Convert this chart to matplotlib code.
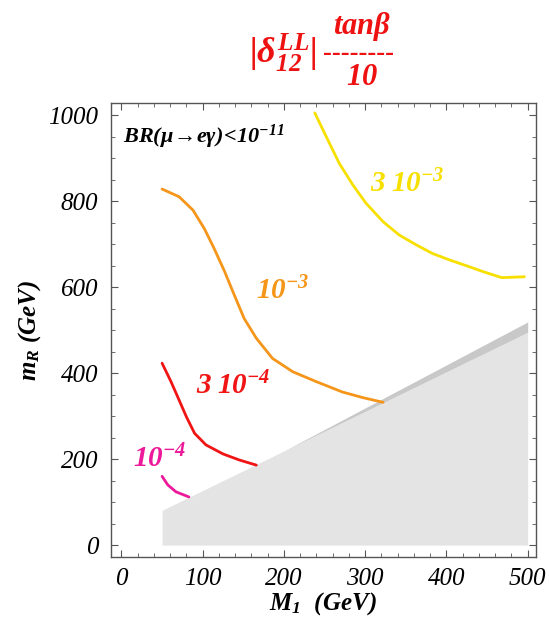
import numpy as np
import matplotlib as mpl
mpl.use('Agg')
import matplotlib.pyplot as plt
from matplotlib.ticker import MultipleLocator

# contour curves (M1 in GeV, mR in GeV)
m1_3e3 = [238, 252, 268, 285, 301, 322, 342, 363, 383, 404, 424, 445, 468, 482, 496]
mr_3e3 = [1005, 950, 888, 837, 795, 752, 721, 698, 678, 663, 650, 636, 622, 623, 624]

m1_1e3 = [50, 71, 88, 102, 114, 127, 139, 151, 166, 186, 211, 240, 272, 297, 322]
mr_1e3 = [828, 810, 779, 736, 690, 636, 581, 527, 481, 434, 403, 380, 356, 343, 332]

m1_3e4 = [50, 61, 71, 80, 90, 104, 125, 145, 166]
mr_3e4 = [423, 380, 337, 298, 260, 233, 212, 198, 186]

m1_1e4 = [50, 57, 67, 83]
mr_1e4 = [160, 140, 124, 112]

# excluded region (light) and its darker upper edge
excl_m1 = [50, 500]
excl_top = [81, 495]
band_m1 = [200, 500]
band_top = [219, 519]

xticks = [0, 100, 200, 300, 400, 500]
yticks = [0, 200, 400, 600, 800, 1000]

serif = ['Liberation Serif', 'DejaVu Serif']
plt.rcParams['font.family'] = serif
plt.rcParams['mathtext.fontset'] = 'custom'
plt.rcParams['mathtext.rm'] = 'Liberation Serif:bold:italic'
plt.rcParams['mathtext.it'] = 'Liberation Serif:bold:italic'
plt.rcParams['mathtext.bf'] = 'Liberation Serif:bold:italic'

fig = plt.figure(figsize=(5.49, 6.17), dpi=100)
ax = fig.add_axes([0.202, 0.097, 0.774, 0.736])

# gray excluded wedge
ax.fill_between(excl_m1, [0, 0], excl_top, color='#e4e4e4', lw=0)
ax.fill_between(band_m1, [np.interp(x, excl_m1, excl_top) for x in band_m1], band_top,
                color='#c8c8c8', lw=0)

lw = 2.0
kw = dict(lw=lw, solid_joinstyle='round', solid_capstyle='round')
ax.plot(m1_3e3, mr_3e3, color='#f7e000', **kw)
ax.plot(m1_1e3, mr_1e3, color='#f5961a', **kw)
ax.plot(m1_3e4, mr_3e4, color='#f01414', **kw)
ax.plot(m1_1e4, mr_1e4, color='#ec1a9a', **kw)

ax.text(352, 840, r'$3\;10^{-3}$', color='#f7e000', fontsize=21, ha='center', va='center')
ax.text(198, 591, r'$10^{-3}$', color='#f5961a', fontsize=21, ha='center', va='center')
ax.text(138, 370, r'$3\;10^{-4}$', color='#f01414', fontsize=21, ha='center', va='center')
ax.text(47, 200, r'$10^{-4}$', color='#ec1a9a', fontsize=21, ha='center', va='center')
ax.text(2, 950, r'$BR(\mu\!\rightarrow\! e\gamma)\!<\!10^{-11}$', color='black',
        fontsize=16, ha='left', va='center')

ax.set_xlim(-13, 510)
ax.set_ylim(-28, 1028)
ax.set_xticks(xticks)
ax.set_yticks(yticks)
ax.xaxis.set_minor_locator(MultipleLocator(20))
ax.yaxis.set_minor_locator(MultipleLocator(50))
ax.tick_params(which='both', direction='in', top=True, right=True, color='#555555')
ax.tick_params(which='major', length=5, labelsize=18)
ax.tick_params(axis='x', which='major', pad=8)
ax.tick_params(axis='y', which='major', pad=9)
ax.tick_params(which='minor', length=3)
for lab in ax.get_xticklabels() + ax.get_yticklabels():
    lab.set_fontstyle('italic')
for sp in ax.spines.values():
    sp.set_color('#555555')
    sp.set_linewidth(1.0)

ax.set_xlabel(r'$M_1\ \ (GeV)$', fontsize=18, labelpad=0)
ax.set_ylabel(r'$m_R\ (GeV)$', fontsize=18, labelpad=4)

# title: |delta| tan(beta) / 10 with a dashed fraction bar
red = '#ee1111'
fig.text(0.577, 0.914, r'$|\delta^{LL}_{12}|$', color=red, fontsize=26, ha='right', va='center')
fig.text(0.66, 0.957, r'$tan\beta$', color=red, fontsize=22, ha='center', va='center')
fig.text(0.653, 0.914, '--------', color=red, fontsize=19, fontweight='bold',
         ha='center', va='center')
fig.text(0.66, 0.874, r'$10$', color=red, fontsize=22, ha='center', va='center')

fig.savefig('out.png', dpi=100)
